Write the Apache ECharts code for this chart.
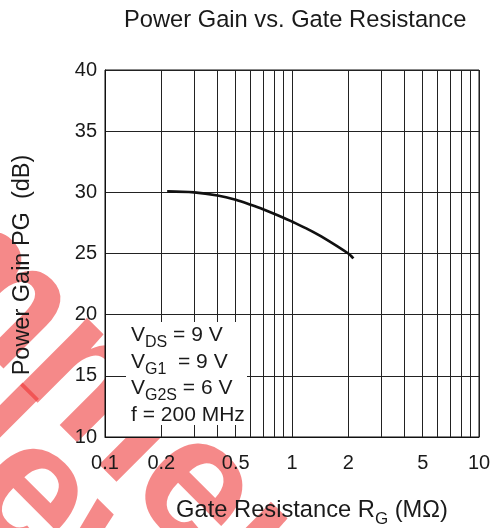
<!DOCTYPE html>
<html>
<head>
<meta charset="utf-8">
<script src="https://cdn.jsdelivr.net/npm/echarts@6/dist/echarts.min.js"></script>
<style>html,body{margin:0;padding:0;background:#fff;}#c{width:496px;height:528px;}</style>
</head>
<body>
<div id="c"></div>
<script>
// ---- data ----
var gateResistance = [0.215, 0.3, 0.4, 0.5, 0.6, 0.7, 0.9, 1.0, 1.2, 1.44, 2.0, 2.13];
var powerGain      = [30.08, 30.0, 29.74, 29.39, 28.99, 28.62, 27.93, 27.61, 27.03, 26.38, 25.0, 24.6];
var xGridValues  = [0.1,0.2,0.3,0.4,0.5,0.6,0.7,0.8,0.9,1,2,3,4,5,6,7,8,9,10];
var xLabelValues = [0.1,0.2,0.5,1,2,5,10];
var yTicks = [10,15,20,25,30,35,40];
var conditionLines = [
  ['V', 'DS', ' = 9 V'],
  ['V', 'G1', '  = 9 V'],
  ['V', 'G2S', ' = 6 V'],
  ['f = 200 MHz', '', '']
];

var FONT = 'Liberation Sans, Arial, sans-serif';
var TXT = '#1a1a1a';
var chart = echarts.init(document.getElementById('c'), null, {renderer:'canvas'});

var pts = gateResistance.map(function(x,i){return [x, powerGain[i]];});

var wmColor = 'rgba(238,45,45,0.56)';
var ang = -45*Math.PI/180;

var condGraphics = conditionLines.map(function(l, i){
  var txt = '{a|' + l[0] + '}' + (l[1] ? '{s|' + l[1] + '}' : '') + (l[2] ? '{a|' + l[2] + '}' : '');
  return {
    type:'text', left: 131, top: 325 + i*26.5, z: 20,
    style:{ text: txt, fill: TXT,
      rich:{
        a:{fontSize:21, fontFamily:FONT, fill:TXT, lineHeight:24, verticalAlign:'bottom'},
        s:{fontSize:16, fontFamily:FONT, fill:TXT, lineHeight:16, verticalAlign:'bottom', padding:[0,0,-5,0]}
      }
    }
  };
});

var option = {
  backgroundColor:'#fff',
  animation:false,
  title:{
    text:'Power Gain vs. Gate Resistance', left:119, top:3,
    textStyle:{fontFamily:FONT, fontSize:23.7, fontWeight:'normal', color:TXT}
  },
  grid:{left:105, right:17, top:70, bottom:91, show:true, backgroundColor:'#fff', borderColor:'#111', borderWidth:1, z:-1},
  xAxis:{
    type:'log', logBase:10, min:0.1, max:10,
    axisLine:{show:true, lineStyle:{color:'#111', width:1}},
    axisTick:{show:false, customValues: xGridValues},
    axisLabel:{customValues: xLabelValues, fontFamily:FONT, fontSize:20, color:TXT, margin:16,
      formatter:function(v){return String(v);} },
    splitLine:{show:true, lineStyle:{color:'#222', width:1}},
    minorTick:{show:false}, minorSplitLine:{show:false}
  },
  yAxis:{
    type:'value', min:10, max:40, interval:5,
    axisLine:{show:true, lineStyle:{color:'#111', width:1}},
    axisTick:{show:false},
    axisLabel:{fontFamily:FONT, fontSize:20, color:TXT, margin:8},
    splitLine:{show:true, lineStyle:{color:'#222', width:1}}
  },
  series:[{
    type:'line', data: pts, smooth:0.35, showSymbol:false, symbol:'none',
    lineStyle:{color:'#111', width:2.7}, z:10
  }],
  graphic:[
    // watermark (behind the plot area)
    {type:'text', x:-378, y:-83, rotation:ang, z:-5,
     style:{text:'Recommended', font:'bold 180px '+FONT, fill:wmColor, textVerticalAlign:'middle', textAlign:'left'}},
    {type:'text', x:-97, y:368, rotation:ang, z:-5,
     style:{text:'New Designs', font:'bold 180px '+FONT, fill:wmColor, textVerticalAlign:'middle', textAlign:'left'}},
    // white box behind the condition text
    {type:'rect', shape:{x:126, y:322, width:121, height:103}, style:{fill:'#fff'}, z:15},
    // axis names
    {type:'text', x:312, y:509, z:20,
     style:{text:'{a|Gate Resistance R}{s|G}{a| (MΩ)}', textAlign:'center', textVerticalAlign:'middle',
       rich:{a:{fontSize:23.7, fontFamily:FONT, fill:TXT, lineHeight:26, verticalAlign:'bottom'},
             s:{fontSize:17, fontFamily:FONT, fill:TXT, lineHeight:17, verticalAlign:'bottom', padding:[0,0,-6,0]}}}},
    {type:'text', x:23, y:265, rotation:Math.PI/2, z:20,
     style:{text:'Power Gain PG  (dB)', font:'23.5px '+FONT, fill:TXT, textAlign:'center', textVerticalAlign:'middle'}}
  ].concat(condGraphics)
};
chart.setOption(option);
</script>
</body>
</html>
